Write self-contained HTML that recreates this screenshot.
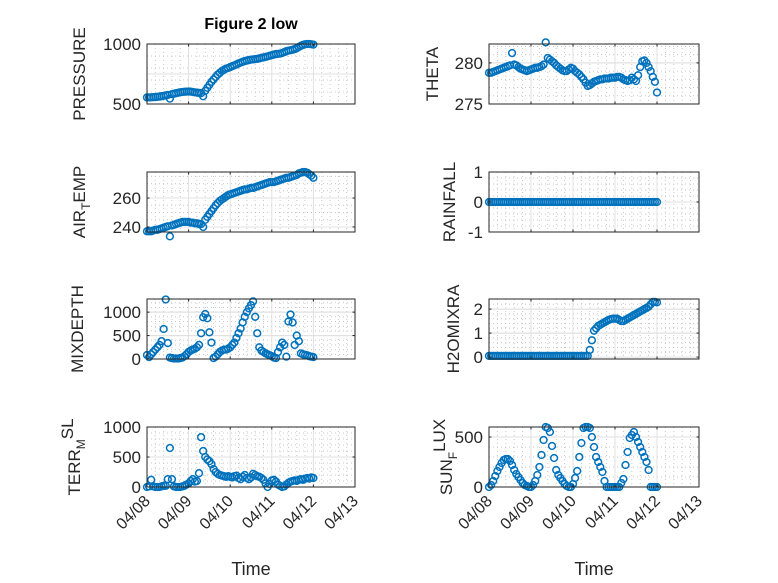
<!DOCTYPE html>
<html><head><meta charset="utf-8"><style>
body{margin:0;background:#fff}
svg{font-family:"Liberation Sans",sans-serif;display:block}
</style></head><body>
<svg id="fig" width="778" height="583" viewBox="0 0 778 583" xmlns="http://www.w3.org/2000/svg">
<rect width="778" height="583" fill="#fff"/>
<text x="251" y="29" text-anchor="middle" font-size="16" font-weight="bold" fill="#000">Figure 2 low</text>
<text x="251" y="575" text-anchor="middle" font-size="18" fill="#262626">Time</text>
<text x="594" y="575" text-anchor="middle" font-size="18" fill="#262626">Time</text>
</svg>
<script>
const xTickLabels=["04/08","04/09","04/10","04/11","04/12","04/13"];
const tDay=[0,0.05,0.1,0.15,0.2,0.25,0.3,0.35,0.4,0.45,0.5,0.55,0.6,0.65,0.7,0.75,0.8,0.85,0.9,0.95,1.0,1.05,1.1,1.15,1.2,1.25,1.3,1.35,1.4,1.45,1.5,1.55,1.6,1.65,1.7,1.75,1.8,1.85,1.9,1.95,2.0,2.05,2.1,2.15,2.2,2.25,2.3,2.35,2.4,2.45,2.5,2.55,2.6,2.65,2.7,2.75,2.8,2.85,2.9,2.95,3.0,3.05,3.1,3.15,3.2,3.25,3.3,3.35,3.4,3.45,3.5,3.55,3.6,3.65,3.7,3.75,3.8,3.85,3.9,3.95,4.0];
const pressV=[555,555,556,557,558,560,562,565,568,572,575,545,582,586,590,594,598,600,602,603,604,603,600,597,595,592,590,565,610,635,660,685,705,725,745,760,775,785,795,800,808,815,822,830,838,845,852,858,862,866,870,872,874,876,880,885,888,892,897,902,907,912,916,918,920,925,932,940,945,948,952,958,965,975,985,992,998,1000,1000,998,995];
const thetaV=[278.8,278.8,278.9,279.0,279.1,279.2,279.3,279.4,279.5,279.6,279.7,281.2,279.8,279.7,279.5,279.3,279.2,279.1,279.0,279.1,279.2,279.3,279.4,279.4,279.5,279.6,279.8,282.5,280.6,280.4,280.2,280.0,279.7,279.5,279.3,279.1,279.0,279.0,279.2,279.4,279.3,279.0,278.8,278.6,278.3,278.0,277.6,277.2,277.3,277.5,277.7,277.8,277.9,278.0,278.0,278.1,278.1,278.1,278.2,278.2,278.2,278.3,278.3,278.2,278.0,277.9,277.8,277.9,278.2,278.0,277.8,278.5,279.5,280.2,280.3,280.0,279.5,279.0,278.3,277.7,276.4];
const airV=[237,237,237,237.5,238,238,238.5,239,239.5,240,240.5,233.5,241,241.5,242,242.5,243,243.5,243.5,243.5,243.5,243,243,242.5,242.5,242,242,240,245,247,249,251,253,255,256.5,258,259,260,261,262,262.5,263,263.5,264,264.5,265,265.5,266,266,266.5,267,267,267.5,268,268.5,269,269.5,270,270.5,271,271,271,271.5,272,272.5,273,273.5,274,274,274.5,275,275.5,276,277,277.5,278,278,277.5,276.5,275.5,274];
const rainV=[0,0,0,0,0,0,0,0,0,0,0,0,0,0,0,0,0,0,0,0,0,0,0,0,0,0,0,0,0,0,0,0,0,0,0,0,0,0,0,0,0,0,0,0,0,0,0,0,0,0,0,0,0,0,0,0,0,0,0,0,0,0,0,0,0,0,0,0,0,0,0,0,0,0,0,0,0,0,0,0,0];
const mixV=[85,40,100,150,200,250,300,380,640,1270,340,30,20,10,10,10,20,30,60,100,150,180,200,220,250,300,550,890,960,870,570,350,20,50,100,150,180,200,200,220,250,300,350,450,550,650,780,900,1000,1080,1150,1230,900,550,250,180,150,120,100,80,60,30,20,150,250,350,300,50,800,950,780,300,500,380,120,100,90,80,60,50,40];
const h2oV=[0.05,0.05,0.05,0.05,0.05,0.05,0.05,0.05,0.05,0.05,0.05,0.05,0.05,0.05,0.05,0.05,0.05,0.05,0.05,0.05,0.05,0.05,0.05,0.05,0.05,0.05,0.05,0.05,0.05,0.05,0.05,0.05,0.05,0.05,0.05,0.05,0.05,0.05,0.05,0.05,0.05,0.05,0.05,0.05,0.05,0.05,0.05,0.05,0.3,0.7,1.1,1.2,1.3,1.35,1.4,1.45,1.5,1.55,1.58,1.6,1.6,1.6,1.55,1.5,1.5,1.55,1.6,1.65,1.7,1.75,1.8,1.85,1.9,1.95,2.0,2.05,2.1,2.2,2.3,2.3,2.28];
const terrV=[0,10,120,10,0,0,0,10,20,20,130,650,130,10,0,0,0,10,20,40,60,100,130,90,100,230,830,600,500,460,430,380,300,250,220,200,190,180,170,180,170,160,180,190,150,130,170,200,150,130,160,220,200,180,170,150,120,60,0,50,110,120,90,40,20,0,10,40,70,90,100,110,100,120,130,120,140,150,140,160,150];
const sunV=[0,20,60,110,160,200,240,270,280,280,260,220,170,130,100,70,40,20,10,0,0,20,60,120,200,320,470,600,590,550,410,290,170,120,90,60,30,10,0,0,30,90,160,300,440,590,600,600,590,500,400,300,250,200,150,60,0,0,0,0,0,0,0,40,80,220,350,490,520,550,500,450,400,350,300,250,170,0,0,0,0];

const svg=document.getElementById('fig');
const NS='http://www.w3.org/2000/svg';
function el(tag,attrs,parent){const e=document.createElementNS(NS,tag);for(const k in attrs)e.setAttribute(k,attrs[k]);(parent||svg).appendChild(e);return e;}

const L={x0:147,x1:355}, R={x0:489,x1:699};
const rows=[{y0:44,y1:104},{y0:172,y1:232},{y0:299,y1:359},{y0:427,y1:487}];
const panels=[
 {key:'pressure',col:L,row:0,ymin:500,ymax:1000,ticks:[500,1000],minor:[600,700,800,900],major:[750],lab:['PRESSURE'],lx:85,v:pressV,showX:false},
 {key:'theta',col:R,row:0,ymin:275,ymax:282.3,ticks:[275,280],minor:[276,277,278,279,281,282],major:[280],lab:['THETA'],lx:438,v:thetaV,showX:false},
 {key:'air-temp',col:L,row:1,ymin:236.5,ymax:278,ticks:[240,260],minor:[245,250,255,265,270,275],major:[240,260],lab:['AIR','T','EMP'],lx:85,v:airV,showX:false},
 {key:'rainfall',col:R,row:1,ymin:-1,ymax:1,ticks:[-1,0,1],minor:[-0.8,-0.6,-0.4,-0.2,0.2,0.4,0.6,0.8],major:[0],lab:['RAINFALL'],lx:455,v:rainV,showX:false},
 {key:'mixdepth',col:L,row:2,ymin:0,ymax:1280,ticks:[0,500,1000],minor:[100,200,300,400,600,700,800,900,1100,1200],major:[500,1000],lab:['MIXDEPTH'],lx:83,v:mixV,showX:false},
 {key:'h2omixra',col:R,row:2,ymin:-0.08,ymax:2.42,ticks:[0,1,2],minor:[0.2,0.4,0.6,0.8,1.2,1.4,1.6,1.8,2.2],major:[1,2],lab:['H2OMIXRA'],lx:459,v:h2oV,showX:false},
 {key:'terr-msl',col:L,row:3,ymin:0,ymax:1000,ticks:[0,500,1000],minor:[100,200,300,400,600,700,800,900],major:[500],lab:['TERR','M','SL'],lx:80,v:terrV,showX:true,supMode:true},
 {key:'sun-flux',col:R,row:3,ymin:0,ymax:600,ticks:[0,500],minor:[100,200,300,400],major:[500],lab:['SUN','F','LUX'],lx:452,v:sunV,showX:true,supMode:true}
];

panels.forEach(p=>{
 const x0=p.col.x0,x1=p.col.x1,y0=rows[p.row].y0,y1=rows[p.row].y1;
 const xs=t=>x0+(x1-x0)*t/5;
 const ys=v=>y1-(y1-y0)*(v-p.ymin)/(p.ymax-p.ymin);
 const g=el('g',{});
 
 
 for(let d=0;d<5;d++)for(let k=1;k<5;k++){const x=xs(d+k/5);el('line',{x1:x,x2:x,y1:y0,y2:y1,stroke:'#c8c8c8','stroke-width':1,'stroke-dasharray':'1 3'},g);}
 p.minor.forEach(v=>{const y=ys(v);el('line',{x1:x0,x2:x1,y1:y,y2:y,stroke:'#c8c8c8','stroke-width':1,'stroke-dasharray':'1 3'},g);});
 for(let d=1;d<5;d++){const x=xs(d);el('line',{x1:x,x2:x,y1:y0,y2:y1,stroke:'#e0e0e0','stroke-width':1},g);}
 p.ticks.concat(p.major).forEach(v=>{const y=ys(v);if(y>y0+1&&y<y1-1)el('line',{x1:x0,x2:x1,y1:y,y2:y,stroke:'#e0e0e0','stroke-width':1},g);});
 const dg=el('g',{fill:'none',stroke:'#0072BD','stroke-width':1.5},g);
 
 
 for(let i=0;i<tDay.length;i++){
   const c=el('circle',{cx:xs(tDay[i]),cy:ys(p.v[i]),r:3.4},dg);
 }
 el('rect',{x:x0,y:y0,width:x1-x0,height:y1-y0,fill:'none',stroke:'#262626','stroke-width':1},g);
 for(let d=0;d<=5;d++){const x=xs(d);el('line',{x1:x,x2:x,y1:y1,y2:y1-2.5,stroke:'#262626'},g);el('line',{x1:x,x2:x,y1:y0,y2:y0+2.5,stroke:'#262626'},g);
   if(p.showX){const tx=el('text',{x:x+4,y:y1+15,'text-anchor':'end','font-size':16,fill:'#262626',transform:`rotate(-45 ${x+4} ${y1+15})`},g);tx.textContent=xTickLabels[d];
     
     }}
 p.ticks.forEach(v=>{const y=ys(v);el('line',{x1:x0,x2:x0+2.5,y1:y,y2:y,stroke:'#262626'},g);el('line',{x1:x1,x2:x1-2.5,y1:y,y2:y,stroke:'#262626'},g);
   const tx=el('text',{x:x0-6,y:y+6,'text-anchor':'end','font-size':17,fill:'#262626'},g);tx.textContent=String(v);
   
   });
 const cy=(y0+y1)/2;
 const tl=el('text',{x:0,y:0,'text-anchor':'middle','font-size':17,fill:'#262626',transform:`translate(${p.lx} ${cy}) rotate(-90)`},g);
 
 
 if(p.lab.length===1)tl.textContent=p.lab[0];
 else{
   const a=el('tspan',{},tl);a.textContent=p.lab[0];
   const b=el('tspan',{'font-size':12,dy:5},tl);b.textContent=p.lab[1];
   const c=el('tspan',{dy:p.supMode?-12:-5},tl);c.textContent=p.lab[2];
 }
});
</script>
</body></html>
